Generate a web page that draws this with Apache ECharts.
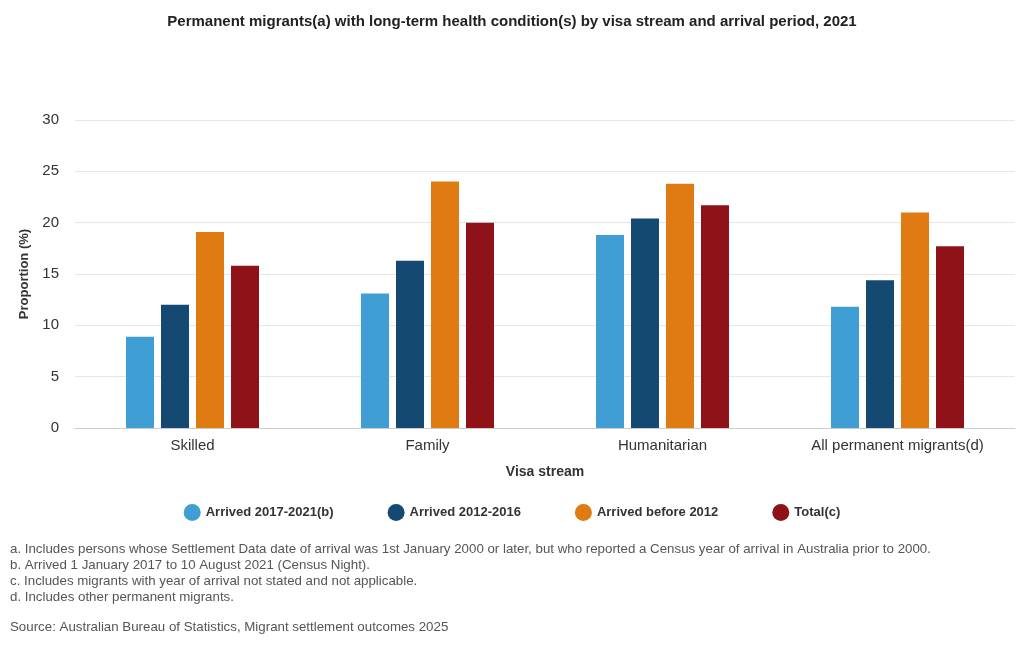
<!DOCTYPE html>
<html><head><meta charset="utf-8">
<script src="https://cdn.jsdelivr.net/npm/echarts@6/dist/echarts.min.js"></script>
<style>html,body{margin:0;padding:0;background:#fff}#c{width:1024px;height:652px}</style>
</head><body><div id="c"></div>
<script>
var categories = ['Skilled', 'Family', 'Humanitarian', 'All permanent migrants(d)'];
var seriesNames = ['Arrived 2017-2021(b)', 'Arrived 2012-2016', 'Arrived before 2012', 'Total(c)'];
var arrived2017 = [8.9, 13.1, 18.8, 11.8];
var arrived2012 = [12.0, 16.3, 20.4, 14.4];
var arrivedBefore2012 = [19.1, 24.0, 23.8, 21.0];
var totalValues = [15.8, 20.0, 21.7, 17.7];
var yTicks = [0, 5, 10, 15, 20, 25, 30];
var footnotes = [
  'a. Includes persons whose Settlement Data date of arrival was 1st January 2000 or later, but who reported a Census year of arrival in Australia prior to 2000.',
  'b. Arrived 1 January 2017 to 10 August 2021 (Census Night).',
  'c. Includes migrants with year of arrival not stated and not applicable.',
  'd. Includes other permanent migrants.'
];
var sourceText = 'Source: Australian Bureau of Statistics, Migrant settlement outcomes 2025';
var colors = ['#3f9fd4', '#144a72', '#e07b14', '#8f1219'];
var dataSets = [arrived2017, arrived2012, arrivedBefore2012, totalValues];

var font = 'Helvetica, "Liberation Sans", Arial, sans-serif';
var chart = echarts.init(document.getElementById('c'), null, {renderer: 'canvas'});
var graphics = footnotes.map(function (t, i) {
  return {type: 'text', left: 10, top: 543 + i * 16, style: {text: t, font: '13.3px ' + font, fill: '#555'}};
});
graphics.push({type: 'text', left: 10, top: 621, style: {text: sourceText, font: '13.3px ' + font, fill: '#555'}});

chart.setOption({
  animation: false,
  textStyle: {fontFamily: font},
  color: colors,
  title: {
    text: 'Permanent migrants(a) with long-term health condition(s) by visa stream and arrival period, 2021',
    left: 'center', top: 9,
    textStyle: {fontSize: 15, fontWeight: 'bold', color: '#222', fontFamily: font}
  },
  legend: {
    data: seriesNames,
    top: 499, left: 'center',
    icon: 'circle', itemWidth: 17, itemHeight: 17, itemGap: 54,
    textStyle: {fontSize: 13, fontWeight: 'bold', color: '#333', fontFamily: font}
  },
  grid: {left: 75, right: 9, top: 120, bottom: 224, containLabel: false},
  xAxis: {
    type: 'category', data: categories,
    name: 'Visa stream', nameLocation: 'middle', nameGap: 37,
    nameTextStyle: {fontSize: 14, fontWeight: 'bold', color: '#333'},
    axisLine: {lineStyle: {color: '#ccc'}},
    axisTick: {show: false},
    axisLabel: {fontSize: 15, color: '#333', margin: 10}
  },
  yAxis: {
    type: 'value', min: yTicks[0], max: yTicks[yTicks.length - 1], interval: 5,
    name: 'Proportion (%)', nameLocation: 'middle', nameGap: 42,
    nameTextStyle: {fontSize: 13, fontWeight: 'bold', color: '#333'},
    axisLine: {show: false}, axisTick: {show: false},
    axisLabel: {fontSize: 15, color: '#333', margin: 16},
    splitLine: {lineStyle: {color: '#e6e6e6'}}
  },
  series: dataSets.map(function (d, i) {
    return {name: seriesNames[i], type: 'bar', data: d, barWidth: 28, barGap: '25%',
      itemStyle: {color: colors[i]}};
  }),
  graphic: graphics
});
</script></body></html>
